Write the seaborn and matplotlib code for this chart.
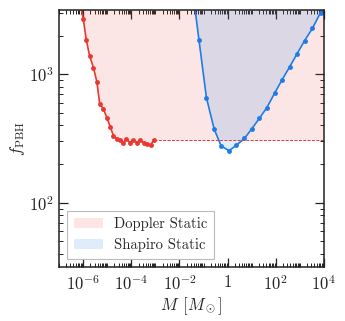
import numpy as np
import pandas as pd
import matplotlib
matplotlib.use('Agg')
import matplotlib.pyplot as plt
import matplotlib.ticker as mticker
from matplotlib.patches import Patch
import seaborn as sns

# Doppler static bound (log10 M, f_PBH)
doppler_logm = [-6.13, -5.99, -5.87, -5.73, -5.57, -5.43, -5.31, -5.16, -5.01, -4.87, -4.74, -4.60,
                -4.48, -4.34, -4.20, -4.06, -3.92, -3.78, -3.64, -3.49, -3.34, -3.20, -3.07]
doppler_f = [3550, 2692, 1862, 1390, 1127, 877, 590, 537, 459, 389, 333, 312,
             306, 294, 312, 294, 308, 294, 306, 294, 286, 280, 306]
doppler_plateau = 306

# Shapiro static bound
shapiro_logm = [-1.50, -1.19, -0.88, -0.56, -0.27, 0.06, 0.36, 0.70, 1.00, 1.32,
                1.63, 1.95, 2.26, 2.57, 2.89, 3.20, 3.52, 3.86, 4.17]
shapiro_f = [5250, 1854, 658, 375, 277, 254, 280, 317, 375, 454,
             550, 711, 904, 1135, 1449, 1828, 2270, 3020, 3981]

labels = ['Doppler Static', 'Shapiro Static']

red = '#e8382f'
blue = '#1f7ce6'

sns.set_style('ticks')
plt.rcParams['font.family'] = 'cmr10'
plt.rcParams['mathtext.fontset'] = 'cm'
plt.rcParams['axes.formatter.use_mathtext'] = True

df_d = pd.DataFrame({'M': 10.0 ** np.array(doppler_logm), 'f': doppler_f})
df_s = pd.DataFrame({'M': 10.0 ** np.array(shapiro_logm), 'f': shapiro_f})

ymin, ymax = 10 ** 1.5, 10 ** 3.5
xmin, xmax = 10 ** -7, 10 ** 4

fig = plt.figure(figsize=(3.45, 3.21), dpi=100)
ax = fig.add_axes([0.171, 0.168, 0.768, 0.801])

# shaded regions
xd = np.append(df_d['M'].values, xmax)
yd = np.append(df_d['f'].values, doppler_plateau)
ax.fill_between(xd, yd, 1e5, color=red, alpha=0.12, lw=0)
ax.fill_between(df_s['M'], df_s['f'], 1e5, color=blue, alpha=0.14, lw=0)

sns.lineplot(data=df_d, x='M', y='f', ax=ax, color=red, lw=1.2, marker='o',
             markersize=3.5, markeredgewidth=0, sort=False)
sns.lineplot(data=df_s, x='M', y='f', ax=ax, color=blue, lw=1.2, marker='o',
             markersize=3.5, markeredgewidth=0, sort=False)
ax.plot([df_d['M'].values[-1], xmax], [doppler_plateau, doppler_plateau],
        color=red, lw=0.7, ls='--', dashes=(3, 1.5))

ax.set_xscale('log')
ax.set_yscale('log')
ax.set_xlim(xmin, xmax)
ax.set_ylim(ymin, ymax)

ax.xaxis.set_major_locator(mticker.FixedLocator([1e-6, 1e-4, 1e-2, 1, 1e2, 1e4]))
ax.xaxis.set_major_formatter(mticker.FixedFormatter(
    [r'$10^{-6}$', r'$10^{-4}$', r'$10^{-2}$', r'$1$', r'$10^{2}$', r'$10^{4}$']))
ax.xaxis.set_minor_locator(mticker.LogLocator(base=10, subs=np.arange(1, 10), numticks=100))
ax.xaxis.set_minor_formatter(mticker.NullFormatter())
ax.yaxis.set_major_locator(mticker.LogLocator(base=10, numticks=20))
ax.yaxis.set_minor_locator(mticker.LogLocator(base=10, subs=np.arange(2, 10), numticks=100))
ax.yaxis.set_minor_formatter(mticker.NullFormatter())

ax.tick_params(which='both', direction='in', top=True, right=True, labelsize=12, colors='#222222')
ax.tick_params(which='major', length=6.5, width=0.9)
ax.tick_params(which='minor', length=3, width=0.7)
ax.tick_params(axis='x', which='major', pad=5)
for s in ax.spines.values():
    s.set_linewidth(1.1)
    s.set_color('#222222')

ax.set_xlabel(r'$M\;\,[M_\odot]$', fontsize=12, labelpad=2)
ax.set_ylabel(r'$f_{\rm PBH}$', fontsize=12, labelpad=2)

handles = [Patch(facecolor=red, alpha=0.12, lw=0), Patch(facecolor=blue, alpha=0.14, lw=0)]
leg = ax.legend(handles, labels, loc='lower left', fontsize=10.5, fancybox=False,
                frameon=True, framealpha=1, edgecolor='#bbbbbb', handlelength=2.0,
                handletextpad=0.8, borderpad=0.45, labelspacing=0.5, borderaxespad=0.55)
leg.get_frame().set_linewidth(0.8)

fig.savefig('out.png', dpi=100)
